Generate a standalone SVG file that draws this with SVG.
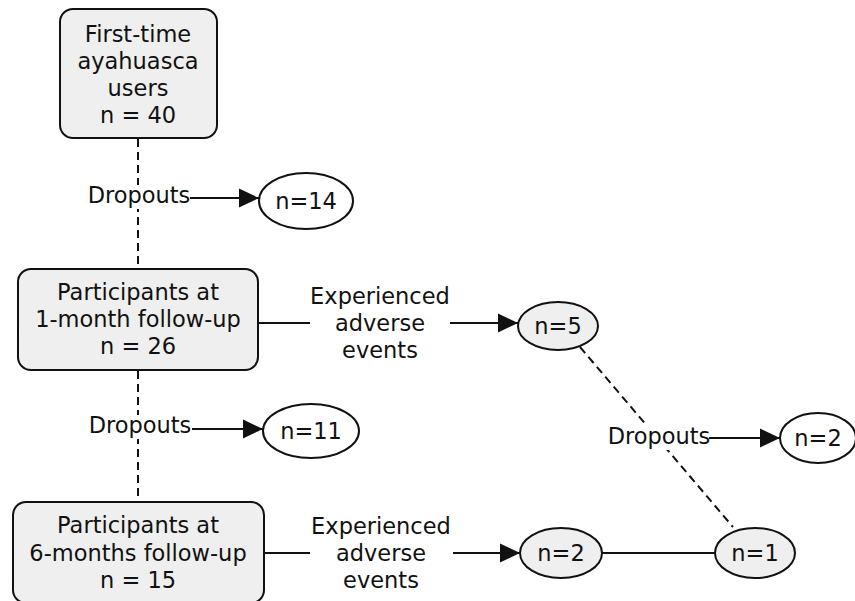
<svg xmlns="http://www.w3.org/2000/svg" width="855" height="601" viewBox="0 0 855 601">
<style>
text{font-family:"DejaVu Sans","Verdana",sans-serif;font-size:22.5px;fill:#111;text-anchor:middle}
.box{fill:#efefef;stroke:#111;stroke-width:2}
.oval{fill:#fff;stroke:#111;stroke-width:2}
.ovalg{fill:#efefef;stroke:#111;stroke-width:2}
.ln{stroke:#111;stroke-width:2;fill:none}
.dash{stroke:#111;stroke-width:2;fill:none;stroke-dasharray:8,5}
.bg{fill:#fff}
</style>
<defs>
<marker id="arr" markerUnits="userSpaceOnUse" markerWidth="21" markerHeight="21" refX="20" refY="10" orient="auto">
<path d="M0,0.5 L20,10 L0,19.5 Z" fill="#111"/>
</marker>
</defs>
<rect width="855" height="601" fill="#fff"/>
<g id="connectors">
<line class="dash" x1="138" y1="139" x2="138" y2="268"/>
<line class="dash" x1="138" y1="371" x2="138" y2="501"/>
<line class="dash" x1="580" y1="347" x2="733" y2="527"/>
<line class="ln" x1="258" y1="323" x2="310" y2="323"/>
<line class="ln" x1="450" y1="323" x2="518" y2="323" marker-end="url(#arr)"/>
<line class="ln" x1="264" y1="553" x2="310" y2="553"/>
<line class="ln" x1="453" y1="553" x2="520" y2="553" marker-end="url(#arr)"/>
<line class="ln" x1="602" y1="553" x2="715" y2="553"/>
<rect class="bg" x="86" y="185" width="106" height="24"/>
<text x="139" y="203">Dropouts</text>
<line class="ln" x1="190" y1="198" x2="259" y2="198" marker-end="url(#arr)"/>
<rect class="bg" x="86" y="415" width="108" height="24"/>
<text x="140" y="433">Dropouts</text>
<line class="ln" x1="192" y1="429" x2="263" y2="429" marker-end="url(#arr)"/>
<rect class="bg" x="605" y="425" width="106" height="25"/>
<text x="659" y="444">Dropouts</text>
<line class="ln" x1="709" y1="438" x2="780" y2="438" marker-end="url(#arr)"/>
<text x="380" y="304">Experienced</text>
<text x="380" y="331">adverse</text>
<text x="380" y="358">events</text>
<text x="381" y="534">Experienced</text>
<text x="381" y="561">adverse</text>
<text x="381" y="588">events</text>
</g>
<g id="node-first">
<rect class="box" x="60" y="9" width="157" height="129" rx="13"/>
<text x="138" y="42">First-time</text>
<text x="138" y="69">ayahuasca</text>
<text x="138" y="96">users</text>
<text x="138" y="123">n = 40</text>
</g>
<g id="node-1month">
<rect class="box" x="18" y="269" width="240" height="101" rx="13"/>
<text x="138" y="300">Participants at</text>
<text x="138" y="327">1-month follow-up</text>
<text x="138" y="354">n = 26</text>
</g>
<g id="node-6months">
<rect class="box" x="13" y="502" width="251" height="101" rx="13"/>
<text x="138" y="533">Participants at</text>
<text x="138" y="561">6-months follow-up</text>
<text x="138" y="588">n = 15</text>
</g>
<g id="node-n14">
<ellipse class="oval" cx="306" cy="201" rx="47" ry="28"/>
<text x="306" y="209">n=14</text>
</g>
<g id="node-n11">
<ellipse class="oval" cx="311" cy="431" rx="48" ry="27"/>
<text x="311" y="439">n=11</text>
</g>
<g id="node-n5">
<ellipse class="ovalg" cx="558" cy="326" rx="40" ry="24"/>
<text x="558" y="334">n=5</text>
</g>
<g id="node-n2right">
<ellipse class="oval" cx="818" cy="438" rx="38" ry="25"/>
<text x="818" y="446">n=2</text>
</g>
<g id="node-n2">
<ellipse class="ovalg" cx="561" cy="553" rx="41" ry="25"/>
<text x="561" y="561">n=2</text>
</g>
<g id="node-n1">
<ellipse class="ovalg" cx="755" cy="553" rx="40" ry="25"/>
<text x="755" y="561">n=1</text>
</g>
</svg>
